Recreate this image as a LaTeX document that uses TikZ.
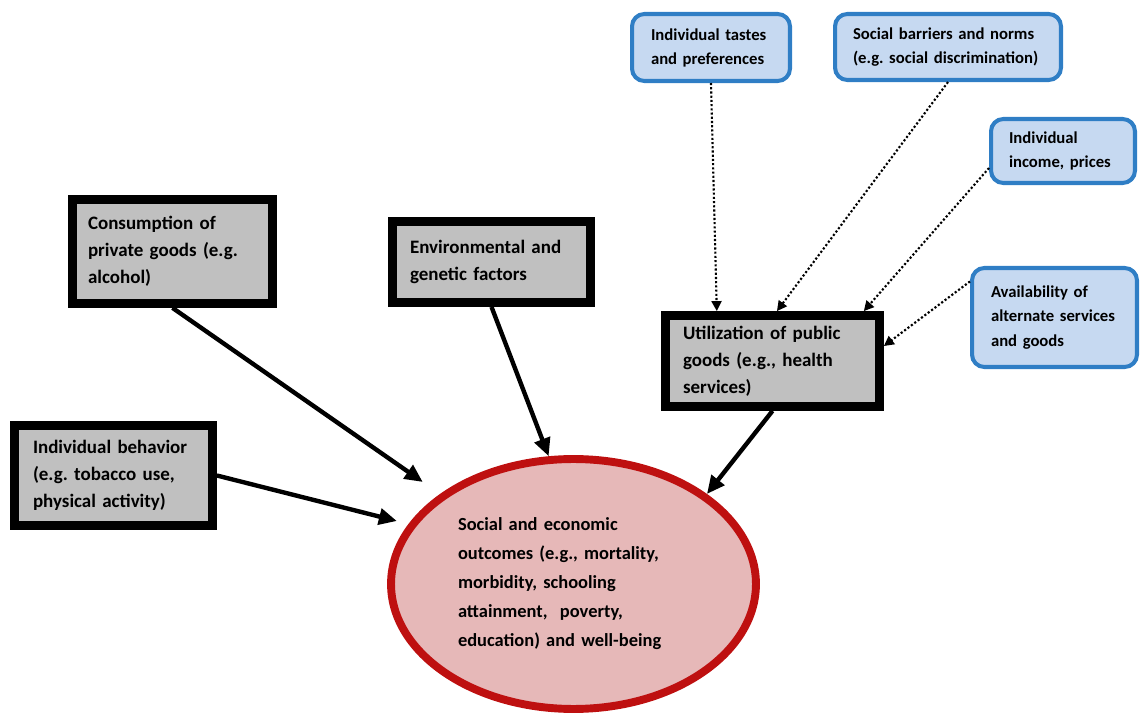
\documentclass[tikz,border=0pt]{standalone}
\usepackage{fontspec}
\setmainfont{Carlito}
\usepackage{tikz}
\usetikzlibrary{shapes,arrows.meta,positioning,calc}
\frenchspacing

\definecolor{boxgray}{HTML}{C0C0C0}
\definecolor{ctxfill}{HTML}{C6D9F1}
\definecolor{ctxline}{HTML}{2F7EC5}
\definecolor{outfill}{HTML}{E6B8B8}
\definecolor{outline}{HTML}{BE1010}

\tikzset{
  factor/.style={draw=black,line width=5pt,fill=boxgray,align=left,
    font=\bfseries\fontsize{10.8}{15.4}\selectfont,inner sep=0pt},
  context/.style={draw=ctxline,line width=2.3pt,fill=ctxfill,rounded corners=7pt,
    align=left,font=\bfseries\fontsize{9.5}{13.7}\selectfont,inner sep=0pt},
  outcome/.style={ellipse,draw=outline,line width=4.5pt,fill=outfill,align=left,
    font=\bfseries\fontsize{10.5}{16.5}\selectfont,inner sep=0pt},
  link/.style={line width=2.5pt,-{Triangle[length=0.36cm,width=0.32cm]}},
  dotlink/.style={line width=1.2pt,dash pattern=on 1.2pt off 1.2pt,
    -{Triangle[length=0.2cm,width=0.2cm]}}
}

\begin{document}
\begin{tikzpicture}[x=0.02cm,y=-0.02cm]
      \useasboundingbox (0,0) rectangle (1140,719);
      % outcome
      \node[outcome,minimum width=7.3cm,minimum height=5.0cm,text width=4.62cm] (out) at (573.5,584)
        {Social and economic\\outcomes (e.g., mortality,\\morbidity, schooling\\attainment,~ poverty,\\education) and well-being};
      % grey factor boxes
      \node[factor,minimum width=4.0cm,minimum height=2.08cm,text width=3.38cm] (cons) at (172.5,251.5)
        {Consumption of\\private goods (e.g.\\alcohol)};
      \node[factor,minimum width=3.96cm,minimum height=1.62cm,text width=3.26cm] (env) at (491.5,262)
        {Environmental and\\genetic factors};
      \node[factor,minimum width=3.96cm,minimum height=2.0cm,text width=3.22cm] (behav) at (113.5,475.5)
        {Individual behavior\\(e.g. tobacco use,\\physical activity)};
      \node[factor,minimum width=4.28cm,minimum height=1.82cm,text width=3.58cm] (util) at (772.5,361)
        {Utilization of public\\goods (e.g., health\\services)};
      % blue context boxes
      \node[context,minimum width=3.16cm,minimum height=1.34cm,text width=2.40cm] (taste) at (711,47.5)
        {Individual tastes\\and preferences};
      \node[context,minimum width=4.52cm,minimum height=1.32cm,text width=3.80cm] (barrier) at (948,47)
        {Social barriers and norms\\(e.g. social discrimination)};
      \node[context,minimum width=2.88cm,minimum height=1.28cm,text width=2.16cm] (income) at (1063,151)
        {Individual\\income, prices};
      \node[context,minimum width=3.30cm,minimum height=1.98cm,text width=2.54cm] (avail) at (1054.5,317.5)
        {Availability of\\alternate services\\and goods};
      % solid arrows into the outcome
      \draw[link,shorten >=0.42cm] (cons.south) -- (out.146);
      \draw[link] (env.south) -- (out.101);
      \draw[link,shorten >=0.24cm] (behav.east) -- (out.160);
      \draw[link] (util.south) -- (out.34);
      % dotted arrows into utilization
      \draw[dotlink] (taste.south) -- ($(util.north west)!0.25!(util.north east)$);
      \draw[dotlink] (barrier.south) -- ($(util.north west)!0.52!(util.north east)$);
      \draw[dotlink] ($(income.west)!0.5!(income.south west)$) -- ($(util.north west)!0.91!(util.north east)$);
      \draw[dotlink] ($(avail.north west)!0.15!(avail.south west)$) -- ($(util.north east)!0.35!(util.south east)$);
\end{tikzpicture}
\end{document}
